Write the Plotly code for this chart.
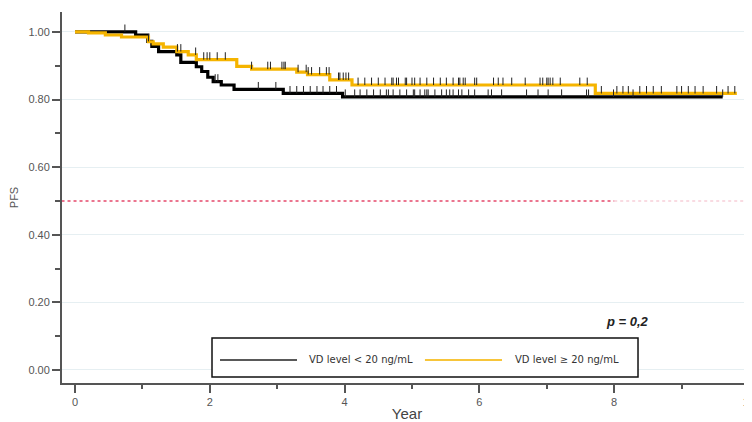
import numpy as np
import plotly.graph_objects as go

# ---- data ----
black_times = [0, 0.90, 1.08, 1.14, 1.24, 1.51, 1.57, 1.80, 1.88, 1.97, 2.05, 2.17, 2.36, 3.09, 3.97]
black_surv = [1.000, 0.991, 0.972, 0.957, 0.942, 0.932, 0.910, 0.897, 0.883, 0.866, 0.853, 0.843, 0.830, 0.818, 0.808]
black_end = 9.61
black_censor = [0.74, 1.09, 2.08, 2.12, 2.72, 2.98, 3.19, 3.29, 3.39, 3.49, 3.59, 3.68, 3.78, 3.88,
                4.01, 4.15, 4.23, 4.33, 4.43, 4.53, 4.62, 4.65, 4.72, 4.82, 4.92, 5.02, 5.04, 5.12,
                5.19, 5.22, 5.24, 5.34, 5.44, 5.51, 5.56, 5.61, 5.69, 5.74, 5.84, 5.93, 6.13, 6.18,
                6.33, 6.70, 6.87, 7.02, 7.22, 7.59, 7.62, 7.99, 8.28, 9.61]

yellow_times = [0, 0.20, 0.45, 0.69, 1.09, 1.16, 1.31, 1.51, 1.68, 1.80, 2.40, 2.62, 3.29, 3.45, 3.78, 4.11, 7.72]
yellow_surv = [1.000, 0.997, 0.991, 0.985, 0.971, 0.965, 0.955, 0.942, 0.932, 0.918, 0.898, 0.890, 0.881, 0.874, 0.858, 0.843, 0.818]
yellow_end = 9.82
yellow_censor = [1.52, 1.57, 1.79, 1.91, 1.96, 2.00, 2.11, 2.23, 2.62, 2.86, 2.90, 3.07, 3.10, 3.12,
                 3.31, 3.43, 3.46, 3.51, 3.63, 3.73, 3.77, 3.91, 3.93, 3.98, 4.02, 4.06,
                 4.20, 4.30, 4.40, 4.50, 4.60, 4.70, 4.72, 4.77, 4.80, 4.90, 4.92, 5.00, 5.04, 5.12,
                 5.22, 5.32, 5.42, 5.51, 5.61, 5.69, 5.71, 5.76, 5.79, 5.93, 5.96, 6.21, 6.28, 6.35,
                 6.48, 6.68, 6.90, 6.94, 7.00, 7.02, 7.05, 7.09, 7.20, 7.49, 7.60,
                 7.81, 8.04, 8.13, 8.21, 8.38, 8.48, 8.58, 8.70, 8.93, 9.00, 9.10, 9.20, 9.32,
                 9.52, 9.69, 9.79]

series_names = ["VD level < 20 ng/mL", "VD level \u2265 20 ng/mL"]
x_ticks = [0, 2, 4, 6, 8, 10]
y_ticks = [0.0, 0.2, 0.4, 0.6, 0.8, 1.0]
median_level = 0.5
p_text = "p = 0,2"

BLACK = "#000000"
YELLOW = "#F5B400"
TICK_H = 0.022


def surv_at(times, surv, t):
    idx = np.searchsorted(np.array(times), np.array(t), side="right") - 1
    return np.array(surv)[idx]


fig = go.Figure()

for times, surv, end, color, name in [
    (black_times, black_surv, black_end, BLACK, series_names[0]),
    (yellow_times, yellow_surv, yellow_end, YELLOW, series_names[1]),
]:
    xs = list(times) + [end]
    ys = list(surv) + [surv[-1]]
    fig.add_trace(go.Scatter(x=xs, y=ys, mode="lines", line=dict(color=color, width=3.2, shape="hv"),
                             name=name, showlegend=False, hoverinfo="skip"))

for times, surv, cens in [(black_times, black_surv, black_censor), (yellow_times, yellow_surv, yellow_censor)]:
    cy = surv_at(times, surv, cens)
    fig.add_trace(go.Scatter(
        x=cens, y=cy, mode="markers", marker=dict(size=1, color="rgba(0,0,0,0)"),
        error_y=dict(type="data", symmetric=False, array=[TICK_H] * len(cens),
                     arrayminus=[0] * len(cens), width=0, thickness=1, color="#222222"),
        showlegend=False, hoverinfo="skip"))

# median reference line
fig.add_shape(type="line", xref="x", yref="y", x0=-0.2, x1=8.0, y0=median_level, y1=median_level,
              line=dict(color="rgba(225,40,80,0.85)", width=1.5, dash="dot"), layer="below")
fig.add_shape(type="line", xref="x", yref="y", x0=8.0, x1=10.1, y0=median_level, y1=median_level,
              line=dict(color="rgba(235,120,145,0.35)", width=1.5, dash="dot"), layer="below")

# legend box (drawn)
fig.add_shape(type="rect", xref="paper", yref="paper", x0=0.2174, x1=0.8348, y0=0.0162, y1=0.1213,
              line=dict(color="#111111", width=1.5), fillcolor="white")
fig.add_shape(type="line", xref="paper", yref="paper", x0=0.229, x1=0.3406, y0=0.062, y1=0.062,
              line=dict(color="#222222", width=1.5))
fig.add_shape(type="line", xref="paper", yref="paper", x0=0.526, x1=0.6377, y0=0.062, y1=0.062,
              line=dict(color="#F7C53A", width=2))
fig.add_annotation(xref="paper", yref="paper", x=0.355, y=0.062, xanchor="left", yanchor="middle",
                   text=series_names[0], showarrow=False,
                   font=dict(family="DejaVu Sans", size=10, color="#333333"))
fig.add_annotation(xref="paper", yref="paper", x=0.6536, y=0.062, xanchor="left", yanchor="middle",
                   text=series_names[1], showarrow=False,
                   font=dict(family="DejaVu Sans", size=10, color="#333333"))

fig.add_annotation(xref="paper", yref="paper", x=0.820, y=0.167, xanchor="center", yanchor="middle",
                   text="<b><i>" + p_text + "</i></b>", showarrow=False,
                   font=dict(family="Liberation Sans", size=13, color="#222222"))

axis_font = dict(family="Liberation Sans", size=11, color="#555555")

# the page body adds an 8px offset, so the figure is 8px smaller than the window
fig.update_layout(
    width=744, height=414,
    margin=dict(l=54, r=0, t=4, b=39),
    plot_bgcolor="white", paper_bgcolor="white",
    showlegend=False,
    xaxis=dict(range=[-0.193, 10.045], tickvals=x_ticks, ticktext=[str(v) for v in x_ticks],
               automargin=False,
               showline=True, linecolor="#555555", linewidth=2,
               ticks="outside", ticklen=8, tickwidth=1.5, tickcolor="#555555",
               minor=dict(dtick=1, ticks="outside", ticklen=4, tickwidth=1.5, tickcolor="#555555", showgrid=False),
               showgrid=False, zeroline=False, tickfont=axis_font, ticklabeloverflow="allow",
               title=dict(text="Year", font=dict(family="Liberation Sans", size=15, color="#444444"), standoff=3)),
    yaxis=dict(range=[-0.0385, 1.059], tickvals=y_ticks, tickformat=".2f",
               automargin=False,
               showline=True, linecolor="#555555", linewidth=2,
               ticks="outside", ticklen=8, tickwidth=1.5, tickcolor="#555555",
               minor=dict(dtick=0.1, ticks="outside", ticklen=5, tickwidth=1.5, tickcolor="#555555", showgrid=False),
               showgrid=True, gridcolor="#E6EFF2", gridwidth=1, zeroline=False, tickfont=axis_font,
               title=dict(text="PFS", font=dict(family="Liberation Sans", size=11, color="#555555"), standoff=18)),
)

fig.write_html("out.html")
